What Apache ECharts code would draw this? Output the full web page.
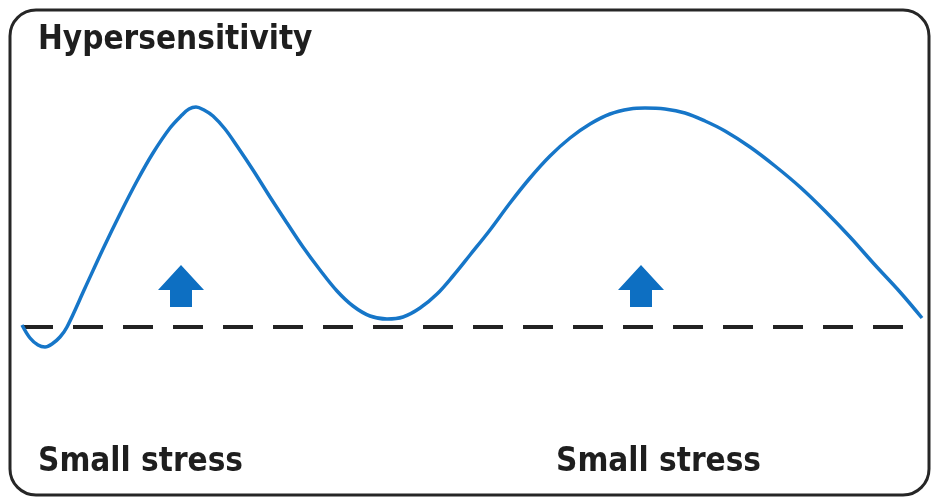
<!DOCTYPE html>
<html>
<head>
<meta charset="utf-8">
<script src="https://cdn.jsdelivr.net/npm/echarts@6/dist/echarts.min.js"></script>
<style>
html,body{margin:0;padding:0;background:#fff;}
#chart{width:933px;height:498px;}
</style>
</head>
<body>
<div id="chart"></div>
<script>
// Curve (x in horizontal units, y relative to the dashed baseline; up = positive)
const curveX = [22, 30, 38, 45, 52, 60, 67, 85, 103, 120, 137, 153, 170, 182, 189, 196, 204, 213, 225, 237, 253, 270, 287, 303, 320, 337, 353, 370, 387, 403, 420, 437, 453, 470, 490, 510, 530, 550, 570, 590, 610, 630, 645, 665, 685, 705, 725, 750, 775, 800, 825, 850, 875, 900, 922];
const curveY = [2, -11, -18, -20, -17, -10, 0, 39, 78, 113, 146, 174, 199, 212, 218, 220, 217, 211, 198, 181, 157, 130, 104, 80, 57, 36, 21, 11, 8, 10, 19, 33, 51, 72, 97, 124, 149, 171, 189, 203, 213, 218, 219, 218, 214, 206, 196, 180, 161, 140, 116, 90, 62, 35, 9];
// Baseline extent
const baselineX = [23, 903];
const baselineY = [0, 0];
// Arrow markers
const arrowX = [181, 641];
const arrowY = [41, 41];
// Texts
const titleText = "Hypersensitivity";
const stressLabels = ["Small stress", "Small stress"];

const chart = echarts.init(document.getElementById('chart'), null, {renderer: 'canvas'});
const arrowPath = 'path://M23,0 L46,25 L34,25 L34,42 L12,42 L12,25 L0,25 Z';

const option = {
  backgroundColor: '#ffffff',
  animation: false,
  grid: {left: 0, right: 0, top: 0, bottom: 0},
  xAxis: {type: 'value', min: 0, max: 933, show: false},
  yAxis: {type: 'value', min: -171, max: 327, show: false},
  series: [
    {
      type: 'line',
      data: baselineX.map((x, i) => [x, baselineY[i]]),
      symbol: 'none',
      lineStyle: {color: '#222222', width: 4, type: [30, 20], cap: 'butt'},
      z: 2
    },
    {
      type: 'line',
      data: curveX.map((x, i) => [x, curveY[i]]),
      symbol: 'none',
      smooth: 0.35,
      lineStyle: {color: '#1676c8', width: 3.5},
      z: 3
    },
    {
      type: 'scatter',
      data: arrowX.map((x, i) => [x, arrowY[i]]),
      symbol: arrowPath,
      symbolSize: [46, 42],
      itemStyle: {color: '#0d6fc2', opacity: 1},
      z: 4
    }
  ],
  graphic: [
    {
      type: 'rect',
      shape: {x: 10, y: 10, width: 919, height: 485, r: 26},
      style: {fill: 'none', stroke: '#262626', lineWidth: 3},
      z: 10
    },
    {
      type: 'text',
      x: 38, y: 40,
      style: {text: titleText, fontFamily: 'DejaVu Sans Condensed', fontWeight: 'bold', fontSize: 33, fill: '#1e1e1e', verticalAlign: 'middle'},
      z: 10
    },
    {
      type: 'text',
      x: 38, y: 462,
      style: {text: stressLabels[0], fontFamily: 'DejaVu Sans Condensed', fontWeight: 'bold', fontSize: 33, fill: '#1e1e1e', verticalAlign: 'middle'},
      z: 10
    },
    {
      type: 'text',
      x: 556, y: 462,
      style: {text: stressLabels[1], fontFamily: 'DejaVu Sans Condensed', fontWeight: 'bold', fontSize: 33, fill: '#1e1e1e', verticalAlign: 'middle'},
      z: 10
    }
  ]
};
chart.setOption(option);
</script>
</body>
</html>
